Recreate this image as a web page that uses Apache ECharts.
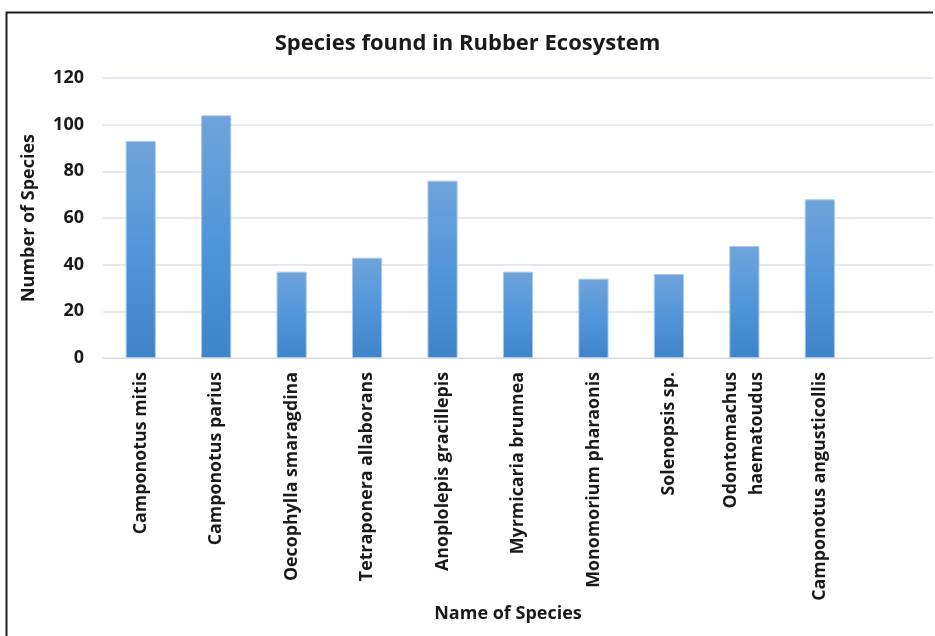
<!DOCTYPE html>
<html>
<head>
<meta charset="utf-8">
<script src="https://cdn.jsdelivr.net/npm/echarts@6/dist/echarts.min.js"></script>
<style>
  html, body { margin: 0; padding: 0; background: #fff; }
  #chart { width: 935px; height: 636px; }
</style>
</head>
<body>
<div id="chart"></div>
<script>
// Ant species counts recorded in the rubber ecosystem
const categories = [
  'Camponotus mitis',
  'Camponotus parius',
  'Oecophylla smaragdina',
  'Tetraponera allaborans',
  'Anoplolepis gracillepis',
  'Myrmicaria brunnea',
  'Monomorium pharaonis',
  'Solenopsis sp.',
  'Odontomachus\nhaematoudus',
  'Camponotus angusticollis',
  ''
];
const counts = [93, 104, 37, 43, 76, 37, 34, 36, 48, 68, null];
const yTicks = [0, 20, 40, 60, 80, 100, 120];

const font = 'Open Sans, Noto Sans, sans-serif';
const ink = '#1a1a1a';
const chart = echarts.init(document.getElementById('chart'), null, { renderer: 'canvas' });

chart.setOption({
  animation: false,
  backgroundColor: '#fff',
  title: {
    text: 'Species found in Rubber Ecosystem',
    left: 'center',
    top: 28,
    textStyle: { fontFamily: font, fontSize: 22, fontWeight: 'bold', color: ink }
  },
  graphic: [{
    type: 'polyline',
    shape: { points: [[6.5, 640], [6.5, 12.5], [933, 12.5]] },
    style: { stroke: '#1e1e1e', lineWidth: 2, fill: null }
  }],
  grid: { left: 103, right: 2, top: 78, bottom: 278, containLabel: false },
  xAxis: {
    type: 'category',
    data: categories,
    name: 'Name of Species',
    nameLocation: 'middle',
    nameGap: 246,
    nameTextStyle: { fontFamily: font, fontSize: 18, fontWeight: 'bold', color: ink, padding: [0, 20, 0, 0] },
    axisLine: { lineStyle: { color: '#d9dde6', width: 1 } },
    axisTick: { show: false },
    axisLabel: {
      interval: 0,
      rotate: 90,
      margin: 14,
      fontFamily: font,
      fontSize: 17.8,
      fontWeight: 'bold',
      color: ink,
      lineHeight: 26
    }
  },
  yAxis: {
    type: 'value',
    min: yTicks[0],
    max: yTicks[yTicks.length - 1],
    interval: yTicks[1] - yTicks[0],
    name: 'Number of Species',
    nameLocation: 'middle',
    nameGap: 65,
    nameTextStyle: { fontFamily: font, fontSize: 18, fontWeight: 'bold', color: ink },
    axisLine: { show: false },
    axisTick: { show: false },
    splitLine: { lineStyle: { color: '#dde1ea', width: 1.5 } },
    axisLabel: {
      margin: 19,
      fontFamily: font,
      fontSize: 18,
      fontWeight: 'bold',
      color: ink
    }
  },
  series: [{
    type: 'bar',
    data: counts,
    barWidth: '40%',
    itemStyle: {
      color: new echarts.graphic.LinearGradient(0, 0, 0, 1, [
        { offset: 0, color: '#6fa4da' },
        { offset: 0.5, color: '#5296da' },
        { offset: 1, color: '#3f84c8' }
      ]),
      borderColor: '#a9c9ec',
      borderWidth: 1
    }
  }]
});
</script>
</body>
</html>
